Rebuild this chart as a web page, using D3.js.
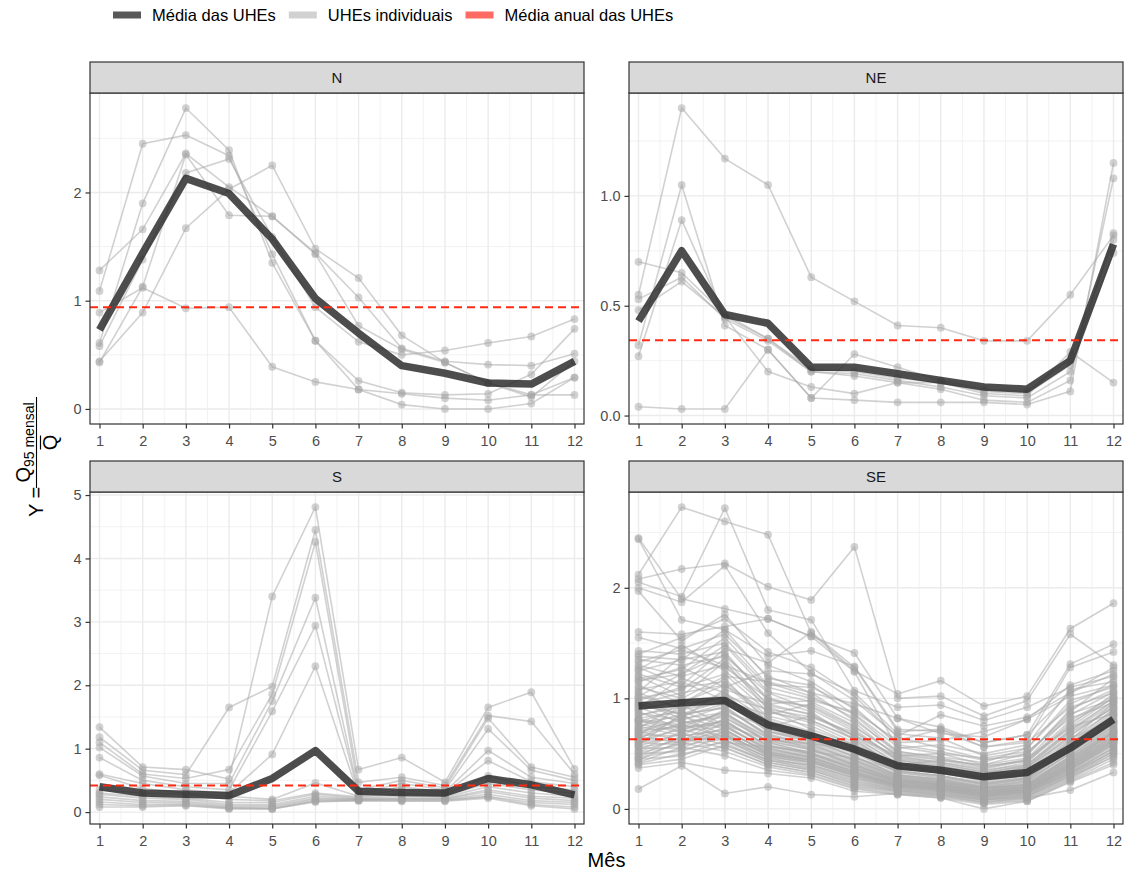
<!DOCTYPE html>
<html>
<head>
<meta charset="utf-8">
<script src="https://cdn.jsdelivr.net/npm/d3@7"></script>
<style>
  body { margin: 0; background: #ffffff; }
  svg text { font-family: "Liberation Sans", Arial, Helvetica, sans-serif; }
</style>
</head>
<body>
<svg id="chart" width="1126" height="872"></svg>
<script>
// Months on the x axis
const months = [1, 2, 3, 4, 5, 6, 7, 8, 9, 10, 11, 12];

// Region facets
const regions = ["N", "NE", "S", "SE"];

// Legend entries
const legendLabels = ["Média das UHEs", "UHEs individuais", "Média anual das UHEs"];

// --- Região N: Q95 mensal / vazão média, por UHE
const seriesN = [
  [1.28, 1.66, 2.36, 2.05, 1.78, 1.44, 1.03, 0.56, 0.44, 0.41, 0.40, 0.51],
  [1.09, 2.45, 2.53, 2.34, 1.43, 0.63, 0.26, 0.15, 0.13, 0.14, 0.32, 0.74],
  [0.89, 1.12, 0.93, 0.94, 0.39, 0.25, 0.18, 0.14, 0.10, 0.08, 0.13, 0.13],
  [0.61, 1.90, 2.78, 2.39, 1.35, 0.63, 0.18, 0.04, 0.00, 0.00, 0.05, 0.29],
  [0.58, 1.38, 2.18, 2.31, 1.59, 0.94, 0.62, 0.50, 0.54, 0.61, 0.67, 0.83],
  [0.44, 0.89, 1.67, 2.03, 2.25, 1.48, 1.21, 0.68, 0.43, 0.24, 0.13, 0.29],
  [0.43, 1.13, 2.35, 1.79, 1.78, 1.43, 0.77, 0.55, 0.43, 0.24, 0.11, 0.44]
];
const meanN = [0.73, 1.44, 2.13, 1.99, 1.57, 1.02, 0.70, 0.40, 0.33, 0.24, 0.23, 0.44];
const annualN = 0.94;

// --- Região NE
const seriesNE = [
  [0.55, 1.40, 1.17, 1.05, 0.63, 0.52, 0.41, 0.40, 0.34, 0.34, 0.55, 0.82],
  [0.32, 1.05, 0.41, 0.30, 0.08, 0.07, 0.06, 0.06, 0.06, 0.05, 0.11, 1.15],
  [0.27, 0.89, 0.45, 0.20, 0.13, 0.10, 0.15, 0.12, 0.07, 0.06, 0.16, 1.08],
  [0.70, 0.65, 0.46, 0.35, 0.20, 0.19, 0.16, 0.13, 0.09, 0.08, 0.20, 0.83],
  [0.53, 0.63, 0.44, 0.34, 0.20, 0.18, 0.15, 0.15, 0.11, 0.10, 0.23, 0.74],
  [0.48, 0.61, 0.45, 0.35, 0.21, 0.20, 0.17, 0.15, 0.10, 0.09, 0.29, 0.15],
  [0.04, 0.03, 0.03, 0.30, 0.08, 0.28, 0.22, 0.16, 0.12, 0.11, 0.26, 0.80]
];
const meanNE = [0.43, 0.75, 0.46, 0.42, 0.22, 0.22, 0.19, 0.16, 0.13, 0.12, 0.25, 0.78];
const annualNE = 0.343;

// --- Região S
const seriesS = [
  [1.34, 0.71, 0.67, 0.52, 3.40, 4.81, 0.67, 0.86, 0.47, 1.65, 1.89, 0.68],
  [1.18, 0.66, 0.59, 1.65, 1.98, 4.45, 0.47, 0.55, 0.42, 1.52, 1.43, 0.60],
  [1.10, 0.60, 0.53, 0.67, 1.86, 4.26, 0.35, 0.50, 0.38, 1.48, 0.71, 0.55],
  [1.02, 0.57, 0.45, 0.45, 1.75, 3.38, 0.30, 0.45, 0.35, 1.31, 0.66, 0.50],
  [0.86, 0.50, 0.40, 0.35, 1.59, 2.94, 0.28, 0.40, 0.32, 0.97, 0.55, 0.45],
  [0.60, 0.45, 0.35, 0.30, 0.91, 2.30, 0.26, 0.35, 0.30, 0.81, 0.48, 0.40],
  [0.58, 0.37, 0.30, 0.25, 0.20, 0.46, 0.25, 0.30, 0.28, 0.57, 0.40, 0.35],
  [0.35, 0.30, 0.28, 0.20, 0.18, 0.30, 0.24, 0.28, 0.26, 0.45, 0.35, 0.30],
  [0.30, 0.25, 0.22, 0.15, 0.15, 0.28, 0.22, 0.25, 0.24, 0.40, 0.30, 0.25],
  [0.28, 0.22, 0.20, 0.12, 0.12, 0.25, 0.21, 0.22, 0.22, 0.35, 0.25, 0.22],
  [0.24, 0.18, 0.17, 0.10, 0.10, 0.22, 0.20, 0.21, 0.21, 0.32, 0.22, 0.18],
  [0.20, 0.15, 0.15, 0.08, 0.08, 0.20, 0.20, 0.20, 0.20, 0.28, 0.18, 0.15],
  [0.16, 0.12, 0.13, 0.07, 0.06, 0.18, 0.19, 0.19, 0.19, 0.25, 0.15, 0.12],
  [0.12, 0.10, 0.11, 0.06, 0.05, 0.17, 0.18, 0.18, 0.18, 0.24, 0.12, 0.08],
  [0.08, 0.08, 0.10, 0.05, 0.05, 0.16, 0.18, 0.17, 0.17, 0.22, 0.10, 0.05]
];
const meanS = [0.40, 0.30, 0.28, 0.26, 0.53, 0.97, 0.33, 0.31, 0.30, 0.53, 0.43, 0.27];
const annualS = 0.42;

// --- Região SE
const seriesSE = [
  [2.45, 1.90, 1.81, 1.72, 1.56, 1.41, 0.82, 0.74, 0.60, 0.67, 1.31, 1.49],
  [2.44, 1.71, 1.62, 1.38, 1.43, 1.29, 0.72, 0.70, 0.56, 0.62, 1.28, 1.42],
  [2.12, 2.73, 2.60, 2.48, 1.59, 1.25, 1.04, 1.16, 0.93, 1.02, 1.63, 1.86],
  [2.08, 2.17, 2.22, 2.01, 1.89, 2.37, 1.00, 1.02, 0.84, 0.98, 1.58, 1.30],
  [2.05, 1.92, 2.72, 1.80, 1.71, 1.07, 0.92, 0.94, 0.80, 0.92, 1.10, 1.20],
  [2.00, 1.87, 2.20, 1.59, 1.23, 0.98, 0.66, 0.85, 0.75, 0.83, 1.05, 1.28],
  [1.97, 1.52, 1.76, 1.30, 1.15, 0.90, 0.60, 0.62, 0.70, 0.81, 1.12, 1.25],
  [1.60, 1.58, 1.65, 1.72, 1.56, 1.24, 0.55, 0.58, 0.50, 0.58, 1.08, 1.15],
  [1.55, 1.45, 1.58, 1.20, 1.05, 0.80, 0.52, 0.47, 0.42, 0.55, 0.95, 1.12],
  [1.43, 1.40, 1.50, 1.10, 1.00, 0.86, 0.56, 0.50, 0.40, 0.50, 0.88, 1.18],
  [1.38, 1.35, 1.42, 0.98, 0.93, 0.74, 0.49, 0.44, 0.37, 0.45, 0.85, 1.06],
  [1.35, 1.30, 1.38, 1.05, 0.90, 0.70, 0.45, 0.40, 0.34, 0.42, 0.78, 1.00],
  [1.30, 1.20, 1.30, 0.95, 0.85, 0.67, 0.44, 0.38, 0.32, 0.40, 0.72, 0.98],
  [1.26, 1.48, 1.25, 0.92, 0.80, 0.64, 0.42, 0.36, 0.30, 0.38, 0.70, 0.95],
  [1.22, 1.10, 1.22, 0.88, 0.78, 0.60, 0.40, 0.35, 0.29, 0.35, 0.66, 0.92],
  [1.20, 1.02, 1.33, 0.90, 0.72, 0.58, 0.41, 0.33, 0.25, 0.31, 0.62, 0.96],
  [1.15, 1.28, 1.10, 1.25, 1.22, 1.05, 0.68, 0.64, 0.48, 0.55, 0.98, 1.10],
  [1.12, 0.95, 1.18, 0.78, 0.66, 0.52, 0.34, 0.30, 0.22, 0.27, 0.55, 0.84],
  [1.08, 1.15, 0.98, 0.85, 0.95, 0.75, 0.48, 0.42, 0.36, 0.44, 0.80, 1.02],
  [1.05, 0.90, 1.05, 0.70, 0.60, 0.45, 0.30, 0.26, 0.19, 0.22, 0.48, 0.76],
  [1.02, 1.22, 1.40, 1.00, 0.88, 0.62, 0.38, 0.32, 0.26, 0.30, 0.58, 0.88],
  [0.98, 0.85, 0.92, 0.65, 0.55, 0.40, 0.27, 0.22, 0.16, 0.20, 0.45, 0.70],
  [0.95, 1.05, 1.12, 0.82, 0.70, 0.56, 0.36, 0.34, 0.28, 0.33, 0.60, 0.90],
  [0.92, 0.78, 0.85, 0.60, 0.50, 0.37, 0.25, 0.21, 0.15, 0.18, 0.42, 0.68],
  [0.90, 0.98, 1.02, 0.76, 0.64, 0.50, 0.33, 0.28, 0.23, 0.28, 0.52, 0.80],
  [0.88, 0.72, 0.80, 0.55, 0.46, 0.34, 0.22, 0.19, 0.13, 0.16, 0.40, 0.65],
  [0.85, 0.92, 0.95, 0.72, 0.62, 0.48, 0.31, 0.27, 0.21, 0.26, 0.50, 0.78],
  [0.82, 0.88, 0.75, 0.52, 0.44, 0.32, 0.21, 0.18, 0.12, 0.15, 0.38, 0.62],
  [0.80, 0.70, 0.90, 0.68, 0.58, 0.44, 0.29, 0.25, 0.19, 0.24, 0.47, 0.74],
  [0.78, 0.84, 0.72, 0.50, 0.42, 0.30, 0.20, 0.17, 0.11, 0.14, 0.36, 0.60],
  [0.75, 0.66, 0.86, 0.64, 0.56, 0.42, 0.28, 0.24, 0.18, 0.22, 0.45, 0.72],
  [0.72, 0.80, 0.68, 0.48, 0.40, 0.28, 0.19, 0.16, 0.10, 0.13, 0.34, 0.58],
  [0.70, 0.62, 0.82, 0.62, 0.53, 0.40, 0.26, 0.23, 0.17, 0.21, 0.43, 0.70],
  [0.68, 0.76, 0.65, 0.46, 0.38, 0.26, 0.18, 0.15, 0.09, 0.12, 0.32, 0.55],
  [0.65, 0.60, 0.78, 0.58, 0.50, 0.38, 0.25, 0.22, 0.16, 0.20, 0.41, 0.66],
  [0.62, 0.72, 0.62, 0.44, 0.36, 0.24, 0.17, 0.14, 0.08, 0.11, 0.30, 0.52],
  [0.60, 0.58, 0.74, 0.55, 0.48, 0.36, 0.24, 0.21, 0.15, 0.19, 0.39, 0.64],
  [0.57, 0.68, 0.58, 0.42, 0.35, 0.22, 0.16, 0.13, 0.07, 0.10, 0.28, 0.50],
  [0.55, 0.55, 0.70, 0.52, 0.46, 0.34, 0.23, 0.20, 0.14, 0.18, 0.37, 0.62],
  [0.52, 0.64, 0.55, 0.40, 0.33, 0.20, 0.15, 0.12, 0.06, 0.09, 0.27, 0.48],
  [0.50, 0.52, 0.66, 0.50, 0.44, 0.32, 0.22, 0.19, 0.13, 0.17, 0.35, 0.60],
  [0.47, 0.60, 0.52, 0.38, 0.31, 0.19, 0.14, 0.11, 0.05, 0.08, 0.26, 0.45],
  [0.45, 0.48, 0.62, 0.47, 0.42, 0.30, 0.21, 0.18, 0.12, 0.16, 0.33, 0.56],
  [0.42, 0.56, 0.48, 0.35, 0.30, 0.18, 0.13, 0.10, 0.04, 0.07, 0.25, 0.42],
  [0.40, 0.45, 0.58, 0.44, 0.40, 0.28, 0.20, 0.17, 0.11, 0.15, 0.32, 0.52],
  [0.37, 0.42, 0.35, 0.32, 0.28, 0.16, 0.13, 0.10, 0.00, 0.07, 0.24, 0.40],
  [0.18, 0.39, 0.14, 0.20, 0.13, 0.11, 0.14, 0.12, 0.06, 0.10, 0.17, 0.33],
  [1.28, 1.12, 1.45, 1.32, 1.60, 1.28, 0.70, 0.72, 0.60, 0.67, 1.05, 1.22],
  [1.10, 1.00, 1.20, 1.15, 1.05, 0.95, 0.82, 0.68, 0.65, 0.81, 1.02, 1.12],
  [0.96, 0.82, 1.08, 0.95, 0.98, 0.88, 0.62, 0.72, 0.56, 0.60, 0.92, 1.05],
  [0.80, 0.74, 0.88, 0.74, 0.84, 0.66, 0.48, 0.50, 0.46, 0.52, 0.82, 0.96],
  [0.66, 0.94, 0.76, 0.62, 0.59, 0.54, 0.40, 0.44, 0.40, 0.46, 0.74, 0.86],
  [0.58, 0.86, 0.60, 0.56, 0.52, 0.46, 0.35, 0.38, 0.33, 0.38, 0.64, 0.80],
  [1.40, 1.55, 1.72, 1.42, 1.28, 1.02, 0.65, 0.55, 0.45, 0.48, 0.90, 1.08],
  [1.18, 1.26, 1.55, 1.12, 1.10, 0.92, 0.58, 0.52, 0.44, 0.50, 0.86, 0.99],
  [0.98, 1.10, 1.15, 0.84, 0.75, 0.58, 0.37, 0.33, 0.27, 0.31, 0.57, 0.86],
  [0.94, 0.86, 0.98, 0.70, 0.63, 0.47, 0.30, 0.27, 0.20, 0.25, 0.51, 0.79],
  [0.91, 1.18, 1.05, 0.80, 0.69, 0.55, 0.35, 0.30, 0.24, 0.29, 0.56, 0.85],
  [0.87, 0.80, 0.93, 0.66, 0.59, 0.43, 0.28, 0.24, 0.18, 0.22, 0.46, 0.73],
  [0.84, 0.95, 1.00, 0.73, 0.65, 0.51, 0.33, 0.29, 0.22, 0.27, 0.53, 0.82],
  [0.81, 0.76, 0.87, 0.61, 0.54, 0.39, 0.26, 0.22, 0.16, 0.20, 0.43, 0.69],
  [0.79, 0.90, 0.96, 0.70, 0.61, 0.47, 0.31, 0.26, 0.20, 0.25, 0.50, 0.77],
  [0.77, 0.69, 0.80, 0.57, 0.50, 0.36, 0.24, 0.20, 0.14, 0.18, 0.41, 0.66],
  [0.74, 0.86, 0.91, 0.67, 0.57, 0.44, 0.29, 0.25, 0.19, 0.23, 0.48, 0.75],
  [0.71, 0.74, 0.76, 0.53, 0.47, 0.33, 0.22, 0.19, 0.13, 0.17, 0.39, 0.63],
  [0.69, 0.82, 0.87, 0.64, 0.54, 0.41, 0.27, 0.24, 0.18, 0.22, 0.46, 0.71],
  [0.67, 0.66, 0.72, 0.50, 0.44, 0.31, 0.21, 0.18, 0.12, 0.16, 0.37, 0.61],
  [0.64, 0.78, 0.83, 0.60, 0.51, 0.39, 0.26, 0.23, 0.17, 0.21, 0.44, 0.69],
  [0.61, 0.63, 0.69, 0.48, 0.42, 0.29, 0.20, 0.17, 0.11, 0.15, 0.35, 0.58],
  [0.59, 0.74, 0.79, 0.57, 0.49, 0.37, 0.25, 0.22, 0.16, 0.20, 0.42, 0.67],
  [0.56, 0.61, 0.66, 0.46, 0.39, 0.27, 0.19, 0.16, 0.10, 0.14, 0.33, 0.55],
  [0.53, 0.70, 0.75, 0.54, 0.47, 0.35, 0.24, 0.21, 0.15, 0.19, 0.40, 0.64],
  [0.51, 0.58, 0.63, 0.44, 0.37, 0.25, 0.18, 0.15, 0.09, 0.13, 0.31, 0.53],
  [0.48, 0.66, 0.71, 0.51, 0.45, 0.33, 0.23, 0.20, 0.14, 0.18, 0.38, 0.62],
  [0.46, 0.54, 0.60, 0.42, 0.35, 0.23, 0.17, 0.14, 0.08, 0.12, 0.30, 0.50],
  [0.44, 0.62, 0.67, 0.49, 0.43, 0.31, 0.22, 0.19, 0.13, 0.17, 0.36, 0.59],
  [0.41, 0.50, 0.56, 0.40, 0.33, 0.21, 0.16, 0.13, 0.08, 0.11, 0.29, 0.47],
  [1.25, 1.35, 1.62, 1.18, 1.12, 0.85, 0.52, 0.46, 0.38, 0.44, 0.76, 1.04],
  [1.16, 1.22, 1.48, 1.06, 0.97, 0.78, 0.47, 0.42, 0.35, 0.40, 0.71, 0.97],
  [1.06, 1.38, 1.28, 1.00, 0.92, 0.72, 0.44, 0.39, 0.31, 0.37, 0.67, 0.93],
  [1.00, 1.08, 1.36, 0.93, 0.86, 0.66, 0.40, 0.36, 0.28, 0.34, 0.63, 0.89],
  [0.73, 0.96, 1.12, 0.88, 0.80, 0.63, 0.38, 0.34, 0.27, 0.32, 0.60, 0.84],
  [0.63, 0.84, 0.95, 0.78, 0.69, 0.53, 0.34, 0.30, 0.23, 0.28, 0.54, 0.78],
  [1.33, 1.44, 1.30, 1.14, 1.02, 0.82, 0.50, 0.45, 0.39, 0.43, 0.74, 1.01],
  [1.02, 0.92, 1.02, 0.90, 0.83, 0.69, 0.46, 0.41, 0.33, 0.39, 0.69, 0.91]
];
const meanSE = [0.93, 0.96, 0.98, 0.76, 0.66, 0.54, 0.39, 0.35, 0.29, 0.33, 0.55, 0.81];
const annualSE = 0.63;

// Y axis breaks per facet
const yTicksN = [0, 1, 2];
const yTicksNE = [0, 0.5, 1.0];
const yTicksS = [0, 1, 2, 3, 4, 5];
const yTicksSE = [0, 1, 2];

// ---------------------------------------------------------------
const svg = d3.select("#chart");
const FONT = "\"Liberation Sans\", Arial, Helvetica, sans-serif";

const colW = 494;
const colX = [90, 629];
const rowStrip = [62, 461];
const stripH = 31;
const rowPlot = [[93, 424], [492, 824]];

const panels = [
  { name: regions[0], series: seriesN,  mean: meanN,  annual: annualN,  ticks: yTicksN,  fmt: d3.format("d"),   col: 0, row: 0 },
  { name: regions[1], series: seriesNE, mean: meanNE, annual: annualNE, ticks: yTicksNE, fmt: d3.format(".1f"), col: 1, row: 0 },
  { name: regions[2], series: seriesS,  mean: meanS,  annual: annualS,  ticks: yTicksS,  fmt: d3.format("d"),   col: 0, row: 1 },
  { name: regions[3], series: seriesSE, mean: meanSE, annual: annualSE, ticks: yTicksSE, fmt: d3.format("d"),   col: 1, row: 1 }
];

function drawPanel(p) {
  const x0 = colX[p.col], x1 = x0 + colW;
  const [yTop, yBot] = rowPlot[p.row];
  const g = svg.append("g");

  // x: small 2% expansion; y: 5% expansion of data range
  const x = d3.scaleLinear()
    .domain([months[0] - 0.02 * (months[11] - months[0]), months[11] + 0.02 * (months[11] - months[0])])
    .range([x0, x1]);
  const ext = d3.extent(p.series.flat().concat(p.mean));
  const pad = (ext[1] - ext[0]) * 0.05;
  const y = d3.scaleLinear().domain([ext[0] - pad, ext[1] + pad]).range([yBot, yTop]);

  // background
  g.append("rect").attr("x", x0).attr("y", yTop).attr("width", colW).attr("height", yBot - yTop)
    .attr("fill", "#ffffff");

  // minor grid
  const step = p.ticks[1] - p.ticks[0];
  const yMinor = [];
  for (let v = p.ticks[0] - step / 2; v <= y.domain()[1]; v += step) {
    if (v >= y.domain()[0]) yMinor.push(v);
  }
  const xMinor = months.slice(0, -1).map(m => m + 0.5);
  const grid = g.append("g");
  grid.selectAll("line.ymin").data(yMinor).join("line")
    .attr("x1", x0).attr("x2", x1).attr("y1", d => y(d)).attr("y2", d => y(d))
    .attr("stroke", "#EFEFEF").attr("stroke-width", 0.8);
  grid.selectAll("line.xmin").data(xMinor).join("line")
    .attr("y1", yTop).attr("y2", yBot).attr("x1", d => x(d)).attr("x2", d => x(d))
    .attr("stroke", "#EFEFEF").attr("stroke-width", 0.8);
  // major grid
  grid.selectAll("line.ymaj").data(p.ticks).join("line")
    .attr("x1", x0).attr("x2", x1).attr("y1", d => y(d)).attr("y2", d => y(d))
    .attr("stroke", "#EBEBEB").attr("stroke-width", 1.4);
  grid.selectAll("line.xmaj").data(months).join("line")
    .attr("y1", yTop).attr("y2", yBot).attr("x1", d => x(d)).attr("x2", d => x(d))
    .attr("stroke", "#EBEBEB").attr("stroke-width", 1.4);

  const line = d3.line().x((d, i) => x(months[i])).y(d => y(d));

  // individual plants
  g.append("g").selectAll("path").data(p.series).join("path")
    .attr("d", line).attr("fill", "none")
    .attr("stroke", "#ABABAB").attr("stroke-opacity", 0.55).attr("stroke-width", 1.6);
  const pts = [];
  p.series.forEach(s => s.forEach((v, i) => pts.push([months[i], v])));
  g.append("g").selectAll("circle").data(pts).join("circle")
    .attr("cx", d => x(d[0])).attr("cy", d => y(d[1])).attr("r", 3.9)
    .attr("fill", "#A6A6A6").attr("fill-opacity", 0.5);

  // regional mean
  g.append("path").datum(p.mean).attr("d", line).attr("fill", "none")
    .attr("stroke", "#2E2E2E").attr("stroke-opacity", 0.85).attr("stroke-width", 7.5)
    .attr("stroke-linejoin", "round");

  // annual mean
  g.append("line").attr("x1", x0).attr("x2", x1)
    .attr("y1", y(p.annual)).attr("y2", y(p.annual))
    .attr("stroke", "#FF2A12").attr("stroke-width", 2).attr("stroke-dasharray", "8,5");

  // panel border
  g.append("rect").attr("x", x0).attr("y", yTop).attr("width", colW).attr("height", yBot - yTop)
    .attr("fill", "none").attr("stroke", "#333333").attr("stroke-width", 1.2);

  // strip
  const sy = rowStrip[p.row];
  g.append("rect").attr("x", x0).attr("y", sy).attr("width", colW).attr("height", stripH)
    .attr("fill", "#D9D9D9").attr("stroke", "#333333").attr("stroke-width", 1.2);
  g.append("text").attr("x", (x0 + x1) / 2).attr("y", sy + stripH / 2)
    .attr("text-anchor", "middle").attr("dominant-baseline", "central")
    .attr("font-size", 15).attr("fill", "#1A1A1A").text(p.name);

  // axes
  const ay = g.append("g").attr("transform", `translate(${x0},0)`)
    .call(d3.axisLeft(y).tickValues(p.ticks).tickFormat(p.fmt).tickSize(4.5).tickPadding(4));
  const ax = g.append("g").attr("transform", `translate(0,${yBot})`)
    .call(d3.axisBottom(x).tickValues(months).tickFormat(d3.format("d")).tickSize(4.5).tickPadding(7));
  [ay, ax].forEach(a => {
    a.select(".domain").remove();
    a.selectAll(".tick line").attr("stroke", "#333333").attr("stroke-width", 1.2);
    a.selectAll(".tick text").attr("fill", "#4D4D4D").attr("font-size", 14.5).attr("font-family", FONT);
  });
}

panels.forEach(drawPanel);

// x axis title
svg.append("text").attr("x", (colX[0] + colX[1] + colW) / 2).attr("y", 867)
  .attr("text-anchor", "middle").attr("font-size", 20).attr("fill", "#000").text("Mês");

// y axis title: Y = Q95 mensal / Q-bar
const yt = svg.append("g").attr("transform", "translate(43,517) rotate(-90)");
yt.append("text").attr("x", 0).attr("y", 0).attr("font-size", 20).attr("fill", "#000").text("Y =");
const barStart = 29, barEnd = 120, barMid = (barStart + barEnd) / 2;
yt.append("line").attr("x1", barStart).attr("x2", barEnd).attr("y1", -6.5).attr("y2", -6.5)
  .attr("stroke", "#000").attr("stroke-width", 1.1);
const num = yt.append("text").attr("x", barMid).attr("y", -13).attr("text-anchor", "middle")
  .attr("font-size", 20).attr("fill", "#000");
num.append("tspan").text("Q");
num.append("tspan").attr("font-size", 14).attr("dy", 4).text("95 mensal");
yt.append("text").attr("x", barMid).attr("y", 14).attr("text-anchor", "middle")
  .attr("font-size", 20).attr("fill", "#000").text("Q");
yt.append("line").attr("x1", barMid - 7).attr("x2", barMid + 7).attr("y1", -2.5).attr("y2", -2.5)
  .attr("stroke", "#000").attr("stroke-width", 1.2);

// legend
const legendColors = ["#595959", "#D1D1D1", "#FF6A63"];
let lx = 113;
const lg = svg.append("g");
legendLabels.forEach((lab, i) => {
  lg.append("rect").attr("x", lx).attr("y", 11.5).attr("width", 28).attr("height", 7).attr("fill", legendColors[i]);
  const t = lg.append("text").attr("x", lx + 39).attr("y", 15).attr("dominant-baseline", "central")
    .attr("font-size", 16.5).attr("fill", "#000").text(lab);
  lx += 39 + t.node().getComputedTextLength() + 13;
});
</script>
</body>
</html>
